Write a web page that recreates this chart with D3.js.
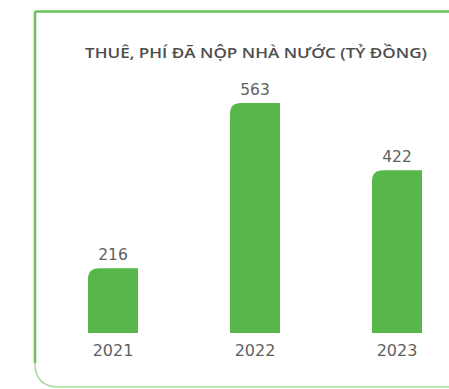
<!DOCTYPE html>
<html>
<head>
<meta charset="utf-8">
<script src="https://cdn.jsdelivr.net/npm/d3@7"></script>
<style>
  html, body { margin: 0; padding: 0; background: #fff; }
  svg { display: block; }
</style>
</head>
<body>
<svg id="chart" width="449" height="389"></svg>
<script>
// Taxes and fees paid to the state budget, billion VND
const years = ["2021", "2022", "2023"];
const values = [216, 563, 422];
const title = "THUÊ, PHÍ ĐÃ NỘP NHÀ NƯỚC (TỶ ĐỒNG)";

const svg = d3.select("#chart");
const W = 449, H = 389;

// Card frame: green top/left edges, paler bottom edge with a rounded corner
const frameX = 35, frameTop = 11.5, frameBottom = 387, r = 24;
svg.append("path")
  .attr("d", `M${W + 5},${frameTop} L${frameX + 2},${frameTop} Q${frameX},${frameTop} ${frameX},${frameTop + 2} L${frameX},${frameBottom - r}`)
  .attr("fill", "none")
  .attr("stroke", "#6cc35e")
  .attr("stroke-width", 2.6);
svg.append("path")
  .attr("d", `M${frameX},${frameBottom - r} Q${frameX},${frameBottom} ${frameX + r},${frameBottom} L${W + 5},${frameBottom}`)
  .attr("fill", "none")
  .attr("stroke", "#a8dc9c")
  .attr("stroke-width", 1.6);

// Title
svg.append("text")
  .attr("x", 256)
  .attr("y", 58)
  .attr("text-anchor", "middle")
  .attr("font-family", "'Open Sans', sans-serif")
  .attr("font-weight", 600)
  .attr("font-size", 14)
  .attr("fill", "#4d4d4d")
  .attr("textLength", 342)
  .attr("lengthAdjust", "spacingAndGlyphs")
  .text(title);

// Scales
const x = d3.scaleBand()
  .domain(years)
  .range([42, 468])
  .paddingInner(0.648)
  .paddingOuter(0.324);

const y = d3.scaleLinear()
  .domain([80, d3.max(values)])
  .range([333, 103]);

// Bar with only the top-left corner rounded
function barPath(x0, y0, w, h, rad) {
  const rr = Math.min(rad, h, w);
  return `M${x0},${y0 + h} L${x0},${y0 + rr} Q${x0},${y0} ${x0 + rr},${y0} L${x0 + w},${y0} L${x0 + w},${y0 + h} Z`;
}

const data = years.map((yr, i) => ({ year: yr, value: values[i] }));

svg.append("g")
  .selectAll("path")
  .data(data)
  .join("path")
  .attr("d", d => barPath(x(d.year), y(d.value), x.bandwidth(), y.range()[0] - y(d.value), 11))
  .attr("fill", "#57b74a");

// Value labels
svg.append("g")
  .selectAll("text")
  .data(data)
  .join("text")
  .attr("x", d => x(d.year) + x.bandwidth() / 2)
  .attr("y", d => y(d.value) - 8)
  .attr("text-anchor", "middle")
  .attr("font-family", "'DejaVu Sans', sans-serif")
  .attr("font-size", 15.5)
  .attr("fill", "#5f5f5f")
  .text(d => d.value);

// Category axis labels
const xAxis = d3.axisBottom(x).tickSize(0).tickPadding(0);
const gx = svg.append("g")
  .attr("transform", "translate(0,345)")
  .call(xAxis);
gx.select(".domain").remove();
gx.selectAll("text")
  .attr("dy", "0.71em")
  .attr("font-family", "'DejaVu Sans', sans-serif")
  .attr("font-size", 16)
  .attr("fill", "#5f5f5f");
</script>
</body>
</html>
